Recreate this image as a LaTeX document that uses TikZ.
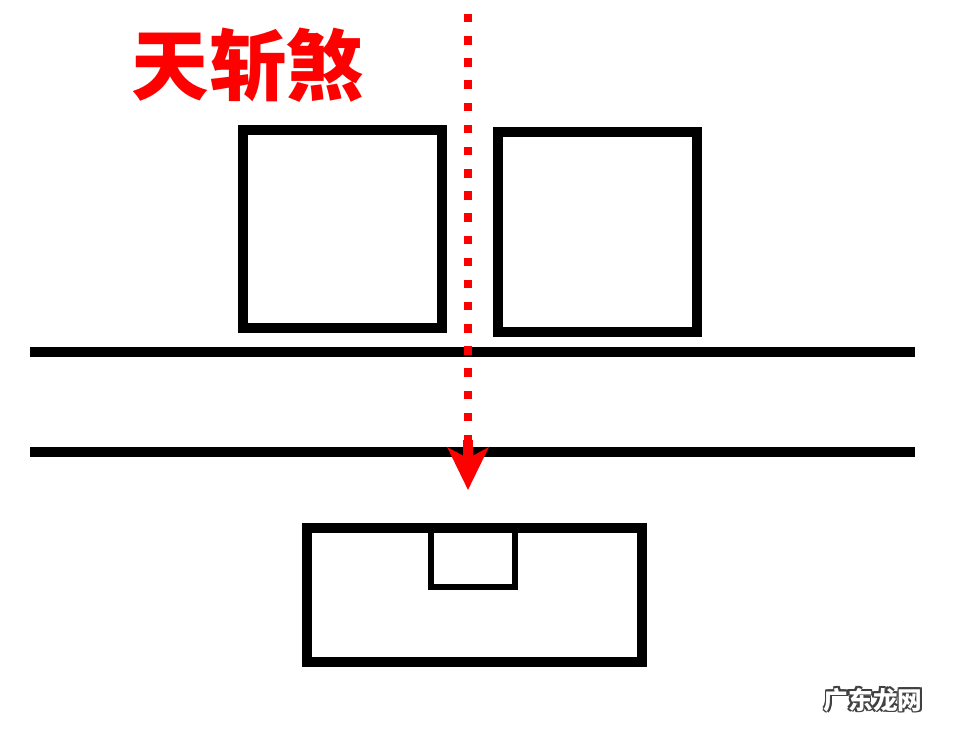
\documentclass[tikz,border=0pt]{standalone}
\usepackage{fontspec}
\newfontfamily\cjk{Noto Sans CJK SC}
\usetikzlibrary{arrows.meta}

\begin{document}
\begin{tikzpicture}[x=0.01cm,y=-0.01cm,font=\cjk]
\useasboundingbox (0,0) rectangle (960,729);

\pgfmathsetmacro{\wall}{2.9};
\pgfmathsetmacro{\thin}{1.5};

% two buildings
\draw[line width=\wall pt] (243,130) coordinate (lb) rectangle (442,328);
\draw[line width=\wall pt] (498,132) coordinate (rb) rectangle (697,332);

% road
\draw[line width=\wall pt] (30,352) coordinate (r1) -- (915,352);
\draw[line width=\wall pt] (30,452) coordinate (r2) -- (915,452);

% house and door
\draw[line width=3.1pt] (307,528) coordinate (h) rectangle (642,662);
\draw[line width=\thin pt] (431,528) -- (431,587) -- (515,587) -- (515,528);

% the gap
\coordinate (top) at (468,14);
\coordinate (tip) at (468,490);
\draw[red, line width=2.4pt, dash pattern=on 2.4pt off 3.9pt] (top) -- (468,450);
\draw[red, line width=2.8pt, -{Stealth[length=12pt,width=11.5pt,inset=3pt]}] (468,440) -- (tip);

\node[text=red, font=\cjk\bfseries\fontsize{22}{22}\selectfont] (title) at (248,65) {天斩煞};

% mark
\foreach \dx/\dy in {-1/0,1/0,0/-1,0/1,-1/-1,1/1,-1/1,1/-1}
  \node[text=black!75, font=\cjk\bfseries\fontsize{7}{7}\selectfont] at (873+\dx*1.6,700+\dy*1.6) {广东龙网};
\node[text=white, font=\cjk\bfseries\fontsize{7}{7}\selectfont] (mark) at (873,700) {广东龙网};
\end{tikzpicture}
\end{document}
